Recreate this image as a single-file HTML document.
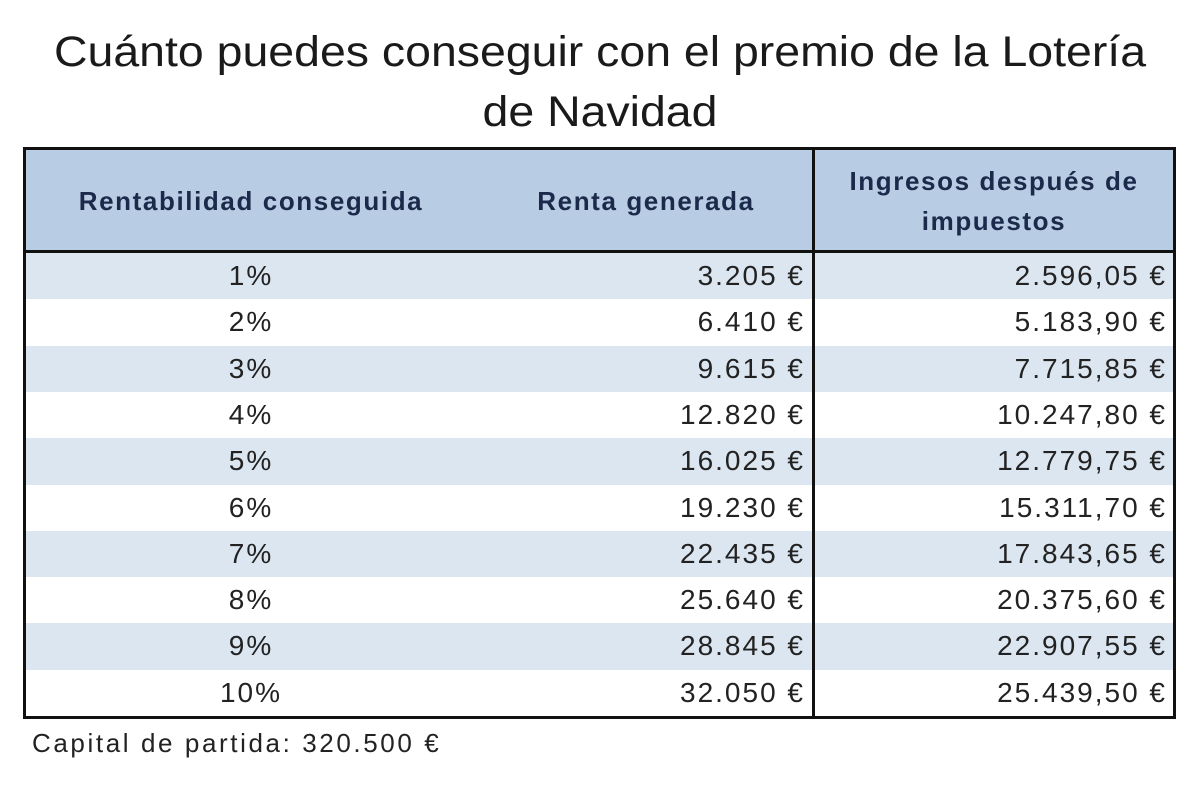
<!DOCTYPE html>
<html><head><meta charset="utf-8"><style>
body{margin:0;width:1200px;height:795px;background:#fff;position:relative;overflow:hidden;font-family:"Liberation Sans",sans-serif;color:#222}
.t{position:absolute;left:0;width:1200px;text-align:center;font-size:43px;color:#1a1a1a;transform:scaleX(1.08);transform-origin:600px 0}
#tbl{position:absolute;left:23px;top:147px;width:1147px;height:566px;border:3px solid #111}
.hdr{position:absolute;left:0;top:0;width:1147px;height:100px;background:#b8cce4;border-bottom:3px solid #111}
.h{position:absolute;font-weight:bold;font-size:26px;letter-spacing:1.6px;color:#1b2a4a;text-align:center;line-height:40px}
.row{position:absolute;left:0;width:1147px;height:46.6px;font-size:28px;letter-spacing:2px;line-height:46px}
.row span{position:absolute}
.sep{position:absolute;left:786px;top:0;width:3px;height:566px;background:#111}
.note{position:absolute;left:32px;top:728px;font-size:26px;letter-spacing:2.6px}
</style></head><body>
<div class="t" style="top:28px">Cuánto puedes conseguir con el premio de la Lotería</div>
<div class="t" style="top:88px">de Navidad</div>
<div id="tbl">
<div class="hdr">
<div class="h" style="left:0;width:450px;top:31px">Rentabilidad conseguida</div>
<div class="h" style="left:450px;width:340px;top:31px">Renta generada</div>
<div class="h" style="left:789px;width:358px;top:11px">Ingresos después de<br>impuestos</div>
</div>
<div id="rows"></div>
<div class="sep"></div>
</div>
<div class="note">Capital de partida: 320.500 €</div>
<script>
const pct=["1%","2%","3%","4%","5%","6%","7%","8%","9%","10%"];
const renta=["3.205 €","6.410 €","9.615 €","12.820 €","16.025 €","19.230 €","22.435 €","25.640 €","28.845 €","32.050 €"];
const ingresos=["2.596,05 €","5.183,90 €","7.715,85 €","10.247,80 €","12.779,75 €","15.311,70 €","17.843,65 €","20.375,60 €","22.907,55 €","25.439,50 €"];
const R=document.getElementById('rows');
pct.forEach((p,i)=>{
const r=document.createElement('div');r.className='row';


r.style.top=(103+i*46.3)+'px';
r.style.background=i%2==0?'#dce6f1':'#fff';
const a=document.createElement('span');a.textContent=p;a.style.left='0';a.style.width='450px';a.style.textAlign='center';


const b=document.createElement('span');b.textContent=renta[i];b.style.right='368px';


const c=document.createElement('span');c.textContent=ingresos[i];c.style.right='6px';


r.append(a,b,c);R.appendChild(r);
});
</script>
</body></html>
